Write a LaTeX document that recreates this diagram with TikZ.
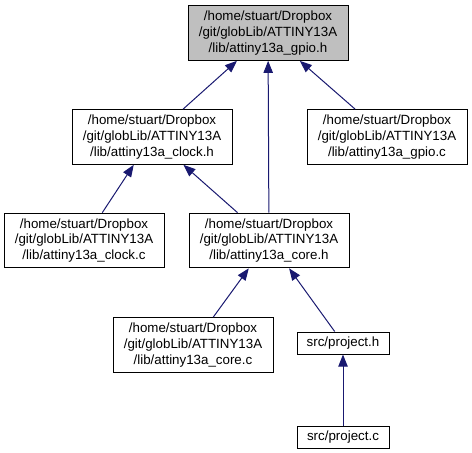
\documentclass[tikz,border=0pt]{standalone}
\usepackage{fontspec}
\setmainfont{Liberation Sans}
\usepackage{xcolor}
\usetikzlibrary{arrows.meta,positioning}
\definecolor{edgeblue}{RGB}{25,25,112}
\definecolor{rootgray}{RGB}{191,191,191}

\begin{document}
\begin{tikzpicture}[
  x=0.75pt, y=-0.75pt,
  file/.style={rectangle, draw=black, line width=0.75pt, fill=white,
               align=center, font=\fontsize{10}{11.8}\selectfont,
               minimum width=120pt, minimum height=41pt, inner sep=1pt},
  srcfile/.style={file, minimum width=69pt, minimum height=16.5pt},
  root/.style={file, fill=rootgray},
  arr/.style={-{Triangle[length=9pt, width=7pt]}, line width=0.75pt, edgeblue}
]
\useasboundingbox (0,0) rectangle (472,453);
\node[root] (gpioh) at (268,33) {/home/stuart/Dropbox\\/git/globLib/ATTINY13A\\/lib/attiny13a\_gpio.h};
\node[file] (clockh) at (152,137) {/home/stuart/Dropbox\\/git/globLib/ATTINY13A\\/lib/attiny13a\_clock.h};
\node[file] (gpioc) at (387,137) {/home/stuart/Dropbox\\/git/globLib/ATTINY13A\\/lib/attiny13a\_gpio.c};
\node[file] (clockc) at (84,240.5) {/home/stuart/Dropbox\\/git/globLib/ATTINY13A\\/lib/attiny13a\_clock.c};
\node[file] (coreh) at (269,240.5) {/home/stuart/Dropbox\\/git/globLib/ATTINY13A\\/lib/attiny13a\_core.h};
\node[file] (corec) at (193,345) {/home/stuart/Dropbox\\/git/globLib/ATTINY13A\\/lib/attiny13a\_core.c};
\node[srcfile] (projh) at (343,343) {src/project.h};
\node[srcfile] (projc) at (343,437) {src/project.c};
\draw[arr] (clockh) -- (gpioh);
\draw[arr] (coreh) -- (gpioh);
\draw[arr] (gpioc) -- (gpioh);
\draw[arr] (clockc) -- (clockh);
\draw[arr] (coreh) -- (clockh);
\draw[arr] (corec) -- (coreh);
\draw[arr] (projh) -- (coreh);
\draw[arr] (projc) -- (projh);
\end{tikzpicture}
\end{document}
